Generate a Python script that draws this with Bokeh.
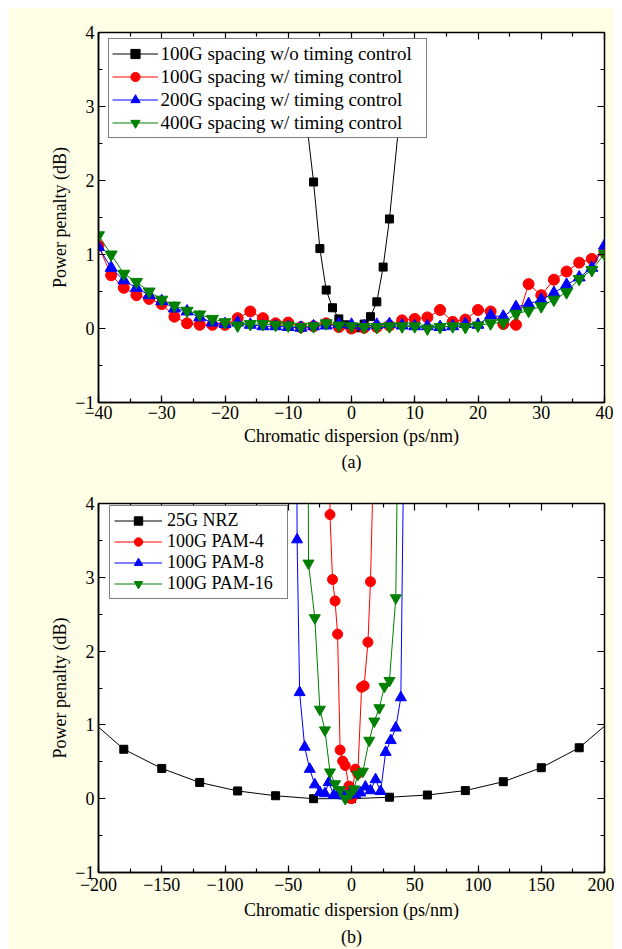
from bokeh.plotting import figure
from bokeh.models import Range1d, FixedTicker, LinearAxis, Legend, LegendItem, Title
from bokeh.layouts import column
from bokeh.embed import file_html
from bokeh.resources import INLINE
import numpy as np

# ---------------- Panel (a) data ----------------
a_cd = list(range(-40, 41, 2))
a_wo_cd = [-8, -6, -5, -4, -3, -2, -1, 0, 1, 2, 3, 4, 5, 6, 8]
a_wo_pp = [3.45, 1.98, 1.08, 0.52, 0.28, 0.13, 0.05, 0.0, 0.01, 0.06, 0.16, 0.36, 0.83, 1.48, 3.2]
a_100g_pp = [1.12, 0.72, 0.55, 0.45, 0.40, 0.33, 0.16, 0.07, 0.05, 0.05, 0.05,
             0.14, 0.23, 0.14, 0.07, 0.08, 0.02, 0.03, 0.07, 0.02, 0.00,
             0.01, 0.02, 0.04, 0.11, 0.13, 0.15, 0.25, 0.09, 0.12, 0.25,
             0.23, 0.06, 0.05, 0.60, 0.45, 0.66, 0.77, 0.89, 0.94, 1.03]
a_200g_pp = [1.10, 0.82, 0.65, 0.55, 0.45, 0.37, 0.27, 0.23, 0.15, 0.08, 0.06,
             0.08, 0.05, 0.03, 0.03, 0.02, 0.01, 0.03, 0.04, 0.06, 0.05,
             0.03, 0.05, 0.06, 0.04, 0.03, 0.03, 0.02, 0.03, 0.06, 0.05,
             0.175, 0.16, 0.29, 0.33, 0.39, 0.48, 0.59, 0.69, 0.82, 1.12]
a_400g_pp = [1.26, 1.00, 0.74, 0.63, 0.50, 0.39, 0.31, 0.24, 0.19, 0.13, 0.085,
             0.04, 0.06, 0.06, 0.05, 0.04, 0.02, 0.03, 0.07, 0.04, 0.03,
             0.02, 0.02, 0.03, 0.03, 0.03, 0.00, 0.02, 0.03, 0.02, 0.04,
             0.07, 0.08, 0.20, 0.24, 0.30, 0.39, 0.49, 0.67, 0.79, 1.01]
a_labels = ["100G spacing w/o timing control", "100G spacing w/ timing control",
            "200G spacing w/ timing control", "400G spacing w/ timing control"]
a_xticks = [-40, -30, -20, -10, 0, 10, 20, 30, 40]
a_xtick_labels = ["\u221240", "\u221230", "\u221220", "\u221210", "0", "10", "20", "30", "40"]

# ---------------- Panel (b) data ----------------
b_nrz_cd = [-210, -180, -150, -120, -90, -60, -30, 0, 30, 60, 90, 120, 150, 180, 210]
b_nrz_pp = [1.12, 0.67, 0.41, 0.22, 0.105, 0.04, 0.0, 0.0, 0.02, 0.05, 0.11, 0.23, 0.42, 0.69, 1.13]
b_pam4_cd = [-18, -17, -15, -13, -11, -9, -7, -5, -2, 0, 3, 5, 8, 10, 13, 15, 17]
b_pam4_pp = [20, 3.85, 2.97, 2.68, 2.23, 0.66, 0.51, 0.45, 0.17, 0.0, 0.40, 0.34, 1.51, 1.53, 2.12, 2.94, 4.3]
b_pam8_cd = [-44, -43, -41, -37, -33, -29, -25, -21, -18, -14, -10, -6, -2, 3, 7, 11, 15, 19, 23, 27, 31, 35, 39, 42]
b_pam8_pp = [8, 3.51, 1.44, 0.70, 0.40, 0.19, 0.085, 0.07, 0.22, 0.05, 0.08, 0.04, 0.05, 0.06, 0.08,
             0.16, 0.11, 0.26, 0.10, 0.63, 0.79, 0.96, 1.37, 5.8]
b_pam16_cd = [-35, -34, -29, -25, -21, -17, -13, -9, -5, -1, 2, 5, 9, 14, 18, 22, 26, 30, 35, 37]
b_pam16_pp = [10, 3.19, 2.45, 1.21, 0.93, 0.36, 0.2, 0.12, 0.0, 0.07, 0.13, 0.33, 0.37, 0.79,
              1.05, 1.23, 1.52, 1.60, 2.72, 5.5]
b_labels = ["25G NRZ", "100G PAM-4", "100G PAM-8", "100G PAM-16"]
b_xticks = [-200, -150, -100, -50, 0, 50, 100, 150, 200]
b_xtick_labels = ["\u2212200", "\u2212150", "\u2212100", "\u221250", "0", "50", "100", "150", "200"]

yticks = [-1, 0, 1, 2, 3, 4]
ytick_labels = ["\u22121", "0", "1", "2", "3", "4"]

CREAM = "#FFFEE6"
FONT = "Liberation Serif"
FS = "18px"


def style_axis(ax, ticker, labels, ticks, lab_standoff=3, title_standoff=3):
    ax.ticker = ticker
    ax.major_tick_in = 7
    ax.major_tick_out = 0
    ax.minor_tick_in = 4
    ax.minor_tick_out = 0
    ax.axis_line_width = 1.5
    ax.axis_line_color = "black"
    ax.major_tick_line_color = "black"
    ax.minor_tick_line_color = "black"
    ax.major_tick_line_width = 1.2
    ax.minor_tick_line_width = 1.2
    ax.major_label_overrides = {t: l for t, l in zip(ticks, labels)}
    ax.major_label_text_font = FONT
    ax.major_label_text_font_size = FS
    ax.major_label_text_color = "black"
    ax.major_label_standoff = lab_standoff
    ax.axis_label_text_font = FONT
    ax.axis_label_text_font_size = FS
    ax.axis_label_text_font_style = "normal"
    ax.axis_label_text_color = "black"
    ax.axis_label_standoff = title_standoff


def mirror_axis(positions, tick_len):
    # tick-only axis: positions are given as minor ticks so that no labels are drawn
    ax = LinearAxis(ticker=FixedTicker(ticks=[], minor_ticks=positions))
    ax.axis_line_color = None
    ax.major_tick_line_color = None
    ax.minor_tick_in = tick_len
    ax.minor_tick_out = 0
    ax.minor_tick_line_color = "black"
    ax.minor_tick_line_width = 1.2
    ax.major_label_standoff = 0
    ax.axis_label_standoff = 0
    return ax


def make_panel(xr, xticks, xlabels, xminor, height, top, bottom, tag,
               lab_standoff, title_standoff, tag_standoff):
    p = figure(width=606, height=height, x_range=Range1d(*xr), y_range=Range1d(-1, 4),
               output_backend="svg", toolbar_location=None,
               min_border_left=90, min_border_right=10,
               min_border_top=top, min_border_bottom=bottom,
               background_fill_color="white", border_fill_color=CREAM,
               outline_line_color="black", outline_line_width=1.5)
    p.xgrid.visible = False
    p.ygrid.visible = False
    yminor = list(np.arange(-1, 4.01, 0.5))
    xt = FixedTicker(ticks=xticks, minor_ticks=xminor)
    yt = FixedTicker(ticks=yticks, minor_ticks=yminor)
    style_axis(p.xaxis[0], xt, xlabels, xticks, lab_standoff, title_standoff)
    style_axis(p.yaxis[0], yt, ytick_labels, yticks, 4, 2)
    p.xaxis[0].axis_label = "Chromatic dispersion (ps/nm)"
    p.yaxis[0].axis_label = "Power penalty (dB)"
    p.add_layout(mirror_axis(xticks, 7), "above")
    p.add_layout(mirror_axis([v for v in xminor if v not in xticks], 4), "above")
    p.add_layout(mirror_axis(yticks, 7), "right")
    p.add_layout(mirror_axis([v for v in yminor if v not in yticks], 4), "right")
    p.add_layout(Title(text=tag, align="center", text_font=FONT, text_font_size=FS,
                       text_font_style="normal", text_color="black",
                       standoff=tag_standoff, offset=0), "below")
    return p


# ---------- panel (a) ----------
pa = make_panel((-40, 40), a_xticks, a_xtick_labels, list(range(-40, 41, 5)), 466, 24, 72, "(a)",
                3, 4, 3)
items_a = []
series_a = [
    (a_wo_cd, a_wo_pp, "black", "square", 8),
    (a_cd, a_100g_pp, "red", "circle", 11),
    (a_cd, a_200g_pp, "blue", "triangle", 12),
    (a_cd, a_400g_pp, "green", "inverted_triangle", 12),
]
for (xs, ys, c, m, s), lab in zip(series_a, a_labels):
    lr = pa.line(xs, ys, line_color=c, line_width=1)
    sr = pa.scatter(xs, ys, marker=m, size=s, fill_color=c, line_color=c)
    items_a.append(LegendItem(label=lab, renderers=[lr, sr]))
leg_a = Legend(items=items_a, location=(9.5, 264), margin=0, padding=3, spacing=0,
               glyph_width=46, glyph_height=23, label_height=23, label_width=262,
               label_standoff=3, label_text_font=FONT, label_text_font_size="19px",
               label_text_color="black", border_line_color="black", border_line_width=1,
               background_fill_color="white", background_fill_alpha=1)
pa.add_layout(leg_a)

# ---------- panel (b) ----------
pb = make_panel((-200, 200), b_xticks, b_xtick_labels, list(range(-200, 201, 25)), 475, 29, 77, "(b)",
                5, 6, 5)
items_b = []
series_b = [
    (b_nrz_cd, b_nrz_pp, "black", "square", 8),
    (b_pam4_cd, b_pam4_pp, "red", "circle", 10),
    (b_pam8_cd, b_pam8_pp, "blue", "triangle", 11),
    (b_pam16_cd, b_pam16_pp, "green", "inverted_triangle", 11),
]
for (xs, ys, c, m, s), lab in zip(series_b, b_labels):
    lr = pb.line(xs, ys, line_color=c, line_width=1)
    sr = pb.scatter(xs, ys, marker=m, size=s, fill_color=c, line_color=c)
    items_b.append(LegendItem(label=lab, renderers=[lr, sr]))
leg_b = Legend(items=items_b, location=(11, 273), margin=0, padding=4, spacing=0,
               glyph_width=48, glyph_height=21, label_height=21, label_width=116,
               label_standoff=5, label_text_font=FONT, label_text_font_size=FS,
               label_text_color="black", border_line_color="black", border_line_width=1,
               background_fill_color="white", background_fill_alpha=1)
pb.add_layout(leg_b)

layout = column(pa, pb, spacing=0, margin=(8, 8, 0, 8), styles={"background-color": CREAM})
open("out.html", "w").write(file_html(layout, INLINE))
